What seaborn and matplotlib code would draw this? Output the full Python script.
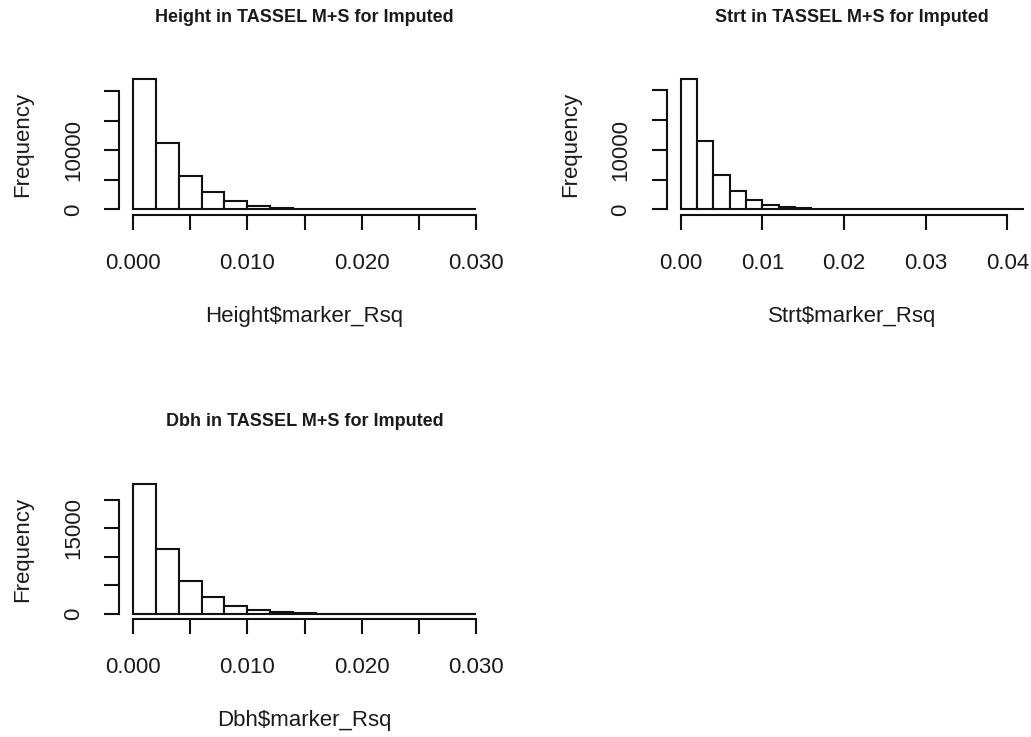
import numpy as np
import pandas as pd
import matplotlib
matplotlib.use("Agg")
import matplotlib.pyplot as plt
import seaborn as sns

# ---- data (bin counts, bin width 0.002) ----
bin_width = 0.002
height_counts = [22030, 11270, 5760, 3050, 1400, 650, 330, 150, 70, 30, 15, 8, 4, 2, 1]
strt_counts = [21700, 11450, 5750, 3100, 1600, 750, 400, 180, 80, 40, 20, 10, 5, 3, 2, 1, 1, 0, 0, 0, 1]
dbh_counts = [22800, 11400, 5790, 2920, 1345, 700, 350, 150, 70, 30, 15, 8, 4, 2, 1]

titles = ["Height in TASSEL M+S for Imputed",
          "Strt in TASSEL M+S for Imputed",
          "Dbh in TASSEL M+S for Imputed"]
xlabels = ["Height$marker_Rsq", "Strt$marker_Rsq", "Dbh$marker_Rsq"]

height_xticks = [0.0, 0.005, 0.010, 0.015, 0.020, 0.025, 0.030]
height_xticklabels = ["0.000", "", "0.010", "", "0.020", "", "0.030"]
strt_xticks = [0.0, 0.01, 0.02, 0.03, 0.04]
strt_xticklabels = ["0.00", "0.01", "0.02", "0.03", "0.04"]
yticks = [0, 5000, 10000, 15000, 20000]
height_yticklabels = ["0", "", "10000", "", ""]
strt_yticklabels = ["0", "", "10000", "", ""]
dbh_yticklabels = ["0", "", "", "15000", ""]

sns.set_style("white")
plt.rcParams["font.family"] = ["Liberation Sans", "DejaVu Sans"]
plt.rcParams["text.color"] = "#1a1a1a"
plt.rcParams["axes.labelcolor"] = "#1a1a1a"
plt.rcParams["xtick.color"] = "#1a1a1a"
plt.rcParams["ytick.color"] = "#1a1a1a"

W, H = 1031, 737
fig = plt.figure(figsize=(W / 100, H / 100), dpi=100)


def px_axes(left, top, width, height):
    return fig.add_axes([left / W, (H - top - height) / H, width / W, height / H])


panel_w, panel_h = 370.4, 140.4
specs = [
    dict(left=119.3, top=74.3, counts=height_counts, xticks=height_xticks,
         xtl=height_xticklabels, ytl=height_yticklabels, title=titles[0], xlabel=xlabels[0],
         ylab_x=23),
    dict(left=667.0, top=74.3, counts=strt_counts, xticks=strt_xticks,
         xtl=strt_xticklabels, ytl=strt_yticklabels, title=titles[1], xlabel=xlabels[1],
         ylab_x=571),
    dict(left=119.3, top=478.8, counts=dbh_counts, xticks=height_xticks,
         xtl=height_xticklabels, ytl=dbh_yticklabels, title=titles[2], xlabel=xlabels[2],
         ylab_x=23),
]

FS = 16
for s in specs:
    ax = px_axes(s["left"], s["top"], panel_w, panel_h)
    counts = np.asarray(s["counts"], dtype=float)
    nb = len(counts)
    xmax = bin_width * nb
    centers = bin_width * (np.arange(nb) + 0.5)
    df = pd.DataFrame({"x": centers, "w": counts})
    sns.histplot(data=df, x="x", weights="w", bins=nb, binrange=(0, xmax), ax=ax,
                 color="white", edgecolor="#111111", linewidth=1.5, alpha=1)
    cmax = counts.max()
    ax.set_xlim(-0.04 * xmax, 1.04 * xmax)
    ax.set_ylim(-0.04 * cmax, 1.04 * cmax)

    sns.despine(ax=ax)
    ax.spines["left"].set_bounds(yticks[0], yticks[-1])
    ax.spines["bottom"].set_bounds(s["xticks"][0], s["xticks"][-1])
    for sp in ("left", "bottom"):
        ax.spines[sp].set_linewidth(1.5)
        ax.spines[sp].set_color("#111111")

    ax.set_xticks(s["xticks"])
    ax.set_xticklabels(s["xtl"], fontsize=FS)
    ax.set_yticks(yticks)
    ax.set_yticklabels(s["ytl"], fontsize=FS, rotation=90, va="center")
    ax.tick_params(axis="x", pad=17)
    ax.tick_params(axis="y", pad=15)
    ax.tick_params(axis="both", direction="out", length=10.5, width=1.5,
                   color="#111111", bottom=True, left=True)

    ax.set_xlabel(s["xlabel"], fontsize=FS)
    ax.xaxis.set_label_coords(0.5, -101.5 / panel_h)
    ax.xaxis.label.set_va("center")
    ax.set_ylabel("Frequency", fontsize=FS)
    ax.yaxis.set_label_coords((s["ylab_x"] - s["left"]) / panel_w, 0.5)
    ax.yaxis.label.set_va("center")

    ax.set_title(s["title"], fontsize=13, fontweight="bold", y=1 + 56.8 / panel_h,
                 pad=0, va="center")

fig.savefig("out.png", dpi=100)
